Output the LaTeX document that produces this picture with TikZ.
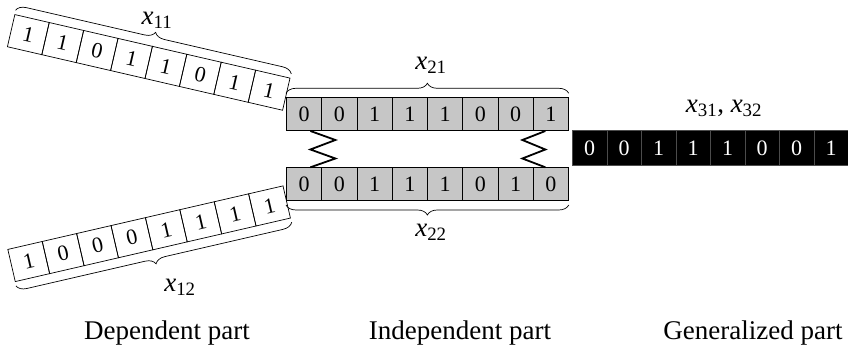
\documentclass[tikz,border=0pt]{standalone}
\usepackage{fontspec}
\setmainfont{Liberation Serif}
\usetikzlibrary{decorations.pathreplacing,calc}
\tikzset{
  zelle/.style={draw, line width=0.7pt, minimum width=35.3pt, minimum height=33pt, inner sep=0pt, font=\fontsize{22}{22}\selectfont},
  grau/.style={zelle, fill=gray!45},
  schwarz/.style={zelle, fill=black, draw=gray!60!black, text=white, minimum width=34.5pt, minimum height=35pt},
  klammer/.style={decorate, decoration={brace, amplitude=10pt, raise=4pt}, line width=0.7pt},
  feder/.style={line width=1.8pt},
  lbl/.style={font=\fontsize{27}{27}\selectfont},
  teil/.style={anchor=base, font=\fontsize{27}{27}\selectfont},
}
\begin{document}
\begin{tikzpicture}[x=1pt, y=1pt]
    \useasboundingbox (0,0) rectangle (848,347);
    % Abhaengiger Teil
    \foreach \w [count=\i] in {1,1,0,1,1,0,1,1}
      \node[zelle, rotate=-13, anchor=south west] (u\i) at ($(7,300)+(-13:{(\i-1)*35.3})$) {\w};
    \foreach \w [count=\i] in {1,0,0,0,1,1,1,1}
      \node[zelle, rotate=13, anchor=south west] (l\i) at ($(15,65)+(13:{(\i-1)*35.3})$) {\w};
    % Unabhaengiger Teil
    \foreach \w [count=\i] in {0,0,1,1,1,0,0,1}
      \node[grau, anchor=south west] (t\i) at ({286+(\i-1)*35.25},216) {\w};
    \foreach \w [count=\i] in {0,0,1,1,1,0,1,0}
      \node[grau, anchor=south west] (b\i) at ({286+(\i-1)*35.25},146) {\w};
    % Verallgemeinerter Teil
    \foreach \w [count=\i] in {0,0,1,1,1,0,0,1}
      \node[schwarz, anchor=south west] (g\i) at ({572+(\i-1)*34.5},181) {\w};
    % Klammern
    \draw[klammer] (u1.north west) -- (u8.north east);
    \draw[klammer] (l8.south east) -- (l1.south west);
    \draw[klammer] (t1.north west) -- (t8.north east);
    \draw[klammer] (b8.south east) -- (b1.south west);
    \node[lbl] (x11) at (157,327) {\textit{x}\textsubscript{11}};
    \node[lbl] (x12) at (180,60) {\textit{x}\textsubscript{12}};
    \node[lbl] (x21) at (431,282) {\textit{x}\textsubscript{21}};
    \node[lbl] (x22) at (431,115) {\textit{x}\textsubscript{22}};
    \node[lbl] (x3) at (724,239) {\textit{x}\textsubscript{31}, \textit{x}\textsubscript{32}};
    % Federn
    \draw[feder] ([xshift=6.4pt]t1.south) -- ++(25,-9) -- ++(-25,-9.5) -- ++(25,-9) -- ([xshift=6.4pt]b1.north);
    \draw[feder] ([xshift=-5.4pt]t8.south) -- ++(-23,-9) -- ++(23,-9.5) -- ++(-23,-9) -- ([xshift=-5.4pt]b8.north);
    % Beschriftung
    \node[teil] (abh) at (167,7) {Dependent part};
    \node[teil] (unabh) at (460,7) {Independent part};
    \node[teil] (allg) at (753,7) {Generalized part};
\end{tikzpicture}
\end{document}
